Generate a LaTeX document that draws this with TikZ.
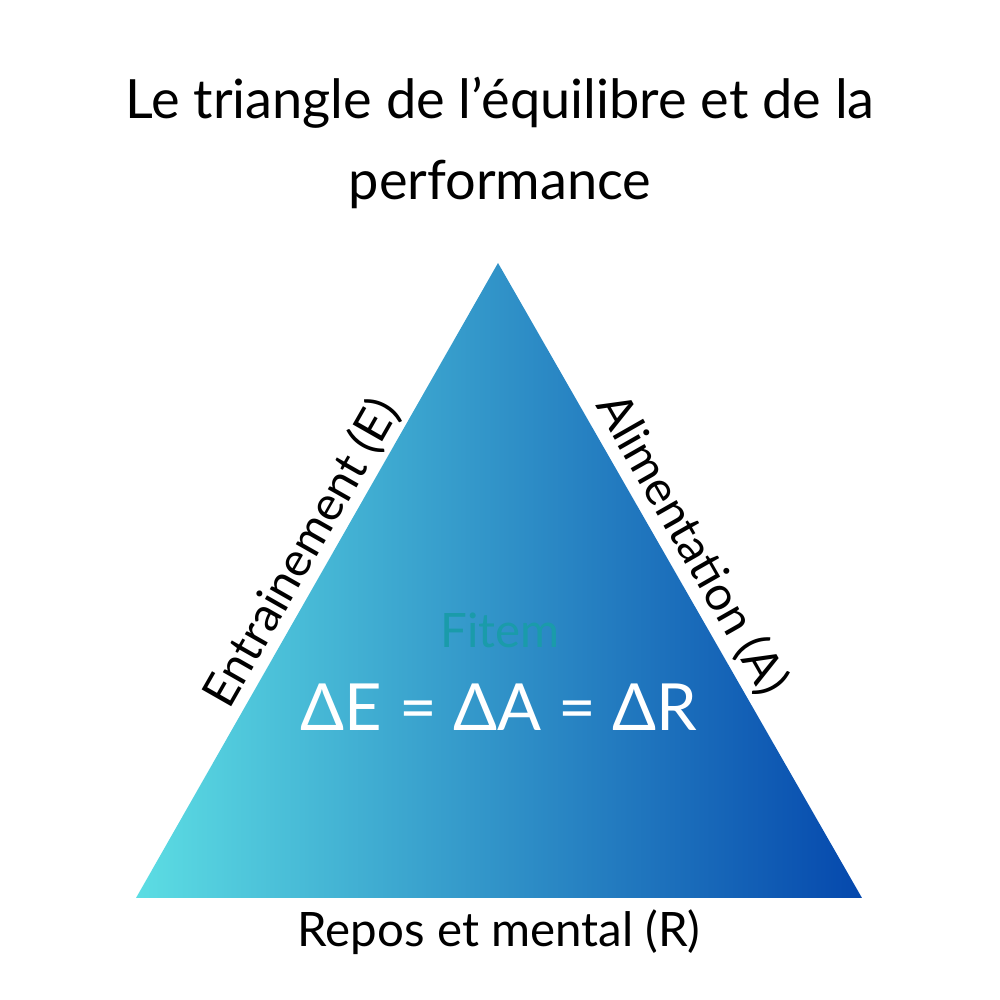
\documentclass[tikz,border=0pt]{standalone}
\usepackage{fontspec}
\setmainfont{Lato}
\usetikzlibrary{positioning}
\definecolor{tleft}{HTML}{5CDDE3}
\definecolor{tright}{HTML}{0548AD}
\definecolor{fitem}{HTML}{1A9BAA}
\begin{document}
\begin{tikzpicture}
  \tikzset{
    label/.style={font=\fontsize{13.5}{16}\selectfont,inner sep=0pt},
  }
  \useasboundingbox (0,0) rectangle (10,10);
  \coordinate (top) at (4.98,7.37);
  \coordinate (bl)  at (1.36,1.02);
  \coordinate (br)  at (8.62,1.02);
  \begin{scope}
    \clip (top) -- (br) -- (bl) -- cycle;
    \shade[left color=tleft,right color=tright] (1.36,1.02) rectangle (8.62,7.37);
  \end{scope}
  \node [label,align=center,font=\fontsize{15.4}{18}\selectfont] (title) at (5,8.57)
    {Le triangle de l’équilibre et de la\\[5pt]performance};
  \node [label] (repos) at (4.99,0.68) {Repos et mental (R)};
  \node [label,rotate=60.3] (entr) at (3.02,4.47) {Entrainement (E)};
  \node [label,rotate=-60.3] (alim) at (6.92,4.55) {Alimentation (A)};
  \node [label,text=fitem] (fitem) at (5,3.70) {Fitem};
  \node [label,text=white,font=\fontsize{18.5}{22}\selectfont] (eq) at (4.99,2.93)
    {ΔE = ΔA = ΔR};
\end{tikzpicture}
\end{document}
